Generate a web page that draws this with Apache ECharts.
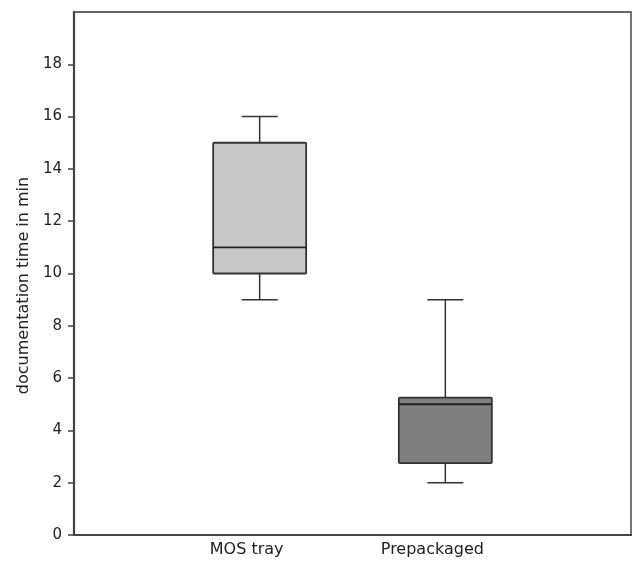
<!DOCTYPE html>
<html>
<head>
<meta charset="utf-8">
<script src="https://cdn.jsdelivr.net/npm/echarts@6/dist/echarts.min.js"></script>
<style>
  html, body { margin: 0; padding: 0; background: #fff; }
  #chart { width: 635px; height: 561px; }
</style>
</head>
<body>
<div id="chart"></div>
<script>
// categories (empty ones at the ends give the boxes room on the axis)
const categories = ['', 'MOS tray', 'Prepackaged', '']
// [category index, min, q1, median, q3, max]
const mosTray = [1, 9, 10, 11, 15, 16]
const prepackaged = [2, 2, 2.75, 5, 5.25, 9]
const boxColors = ['#c8c8c8', '#7f7f7f']
const yTicks = [0, 2, 4, 6, 8, 10, 12, 14, 16, 18]

const chartDom = document.getElementById('chart')
const myChart = echarts.init(chartDom)

function renderBox(params, api) {
  const x = api.coord([api.value(0), 0])[0]
  const yMin = api.coord([api.value(0), api.value(1)])[1]
  const yQ1 = api.coord([api.value(0), api.value(2)])[1]
  const yMed = api.coord([api.value(0), api.value(3)])[1]
  const yQ3 = api.coord([api.value(0), api.value(4)])[1]
  const yMax = api.coord([api.value(0), api.value(5)])[1]
  const half = 46.5
  const cap = 18
  const lineStyle = { stroke: '#333', lineWidth: 1.5, fill: null }
  return {
    type: 'group',
    children: [
      { type: 'line', shape: { x1: x, y1: yMax, x2: x, y2: yQ3 }, style: lineStyle },
      { type: 'line', shape: { x1: x - cap, y1: yMax, x2: x + cap, y2: yMax }, style: lineStyle },
      { type: 'line', shape: { x1: x, y1: yQ1, x2: x, y2: yMin }, style: lineStyle },
      { type: 'line', shape: { x1: x - cap, y1: yMin, x2: x + cap, y2: yMin }, style: lineStyle },
      {
        type: 'rect',
        shape: { x: x - half, y: yQ3, width: half * 2, height: yQ1 - yQ3, r: 1 },
        style: { fill: boxColors[params.dataIndex], stroke: '#333', lineWidth: 1.8 }
      },
      { type: 'line', shape: { x1: x - half, y1: yMed, x2: x + half, y2: yMed }, style: { stroke: '#222', lineWidth: 1.8 } }
    ]
  }
}

const font = 'DejaVu Sans, sans-serif'

const option = {
  animation: false,
  grid: {
    left: 74,
    right: 4,
    top: 12,
    bottom: 26,
    show: true,
    borderColor: '#666',
    borderWidth: 1.8
  },
  xAxis: {
    type: 'category',
    data: categories,
    boundaryGap: false,
    axisLine: { lineStyle: { color: '#444', width: 2.2 } },
    axisTick: { show: false },
    axisLabel: {
      color: '#222',
      fontSize: 16,
      fontFamily: font,
      margin: 7,
      padding: [0, 26, 0, 0]
    },
    splitLine: { show: false }
  },
  yAxis: {
    type: 'value',
    min: 0,
    max: 20,
    interval: 2,
    name: 'documentation time in min',
    nameLocation: 'middle',
    nameGap: 41,
    nameTextStyle: {
      color: '#222',
      fontSize: 16,
      fontFamily: font,
      padding: [0, 24, 0, 0]
    },
    axisLine: { show: true, lineStyle: { color: '#444', width: 2.2 } },
    axisTick: {
      show: true,
      length: 6,
      customValues: yTicks,
      lineStyle: { color: '#444', width: 1.5 }
    },
    axisLabel: {
      customValues: yTicks,
      color: '#222',
      fontSize: 15,
      fontFamily: font,
      margin: 12
    },
    splitLine: { show: false }
  },
  series: [
    {
      type: 'custom',
      renderItem: renderBox,
      encode: { x: 0, y: [1, 2, 3, 4, 5] },
      data: [mosTray, prepackaged]
    }
  ]
}
myChart.setOption(option)
</script>
</body>
</html>
